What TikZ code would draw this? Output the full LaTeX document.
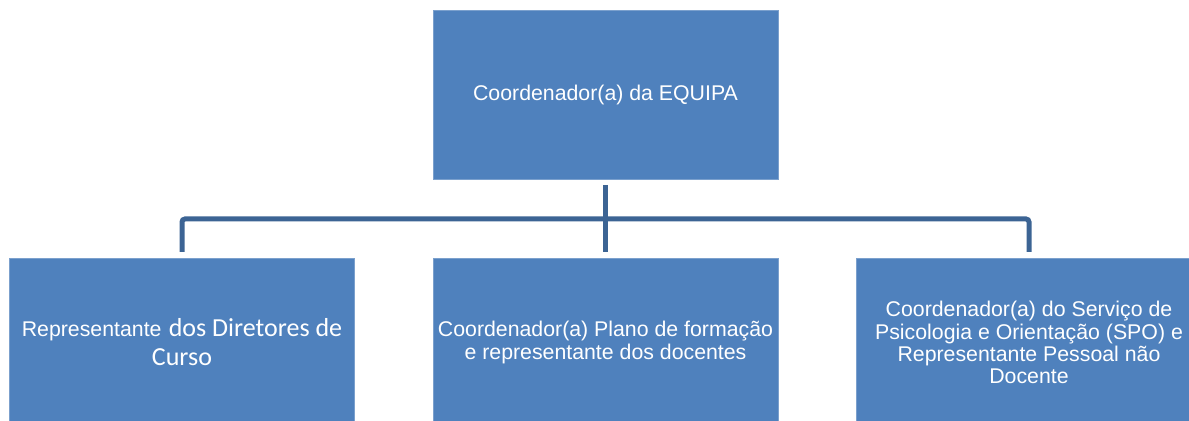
\documentclass[tikz,border=0pt]{standalone}
\usepackage{fontspec}
\setmainfont{Liberation Sans}
\newfontfamily\calibri{Carlito}
\usetikzlibrary{positioning}
\definecolor{boxblue}{HTML}{4F81BD}
\definecolor{linkblue}{HTML}{3C6494}
\tikzstyle{orgbox}=[fill=boxblue, draw=boxblue!75!white, line width=0.4pt, minimum width=172.5pt, minimum height=84.5pt, inner sep=0pt, outer sep=3pt, text=white, align=center, font=\fontsize{10.65}{11.1}\selectfont]
\tikzset{link/.style={draw=linkblue, line width=2.5pt, rounded corners=1.5pt}}

\begin{document}
\begin{tikzpicture}[x=0.5pt, y=-0.5pt]
\clip (0,0) rectangle (1189,421);
\node[orgbox] (coord) at (605.5,94.5) {Coordenador(a) da EQUIPA};
\node[orgbox, font=\fontsize{13}{14.5}\selectfont] (diret) at (182,342.5) {{\fontsize{10.65}{14.5}\selectfont Representante} {\calibri dos Diretores de}\\{\calibri Curso}};
\node[orgbox] (plano) at (605.5,342.5) {Coordenador(a) Plano de formação\\e representante dos docentes};
\node[orgbox] (spo) at (1029,342.5) {Coordenador(a) do Serviço de\\Psicologia e Orientação (SPO) e\\Representante Pessoal não\\Docente};
\coordinate (bus) at (605.5,219);
%\draw[link] (coord.south) -- (bus);
\draw[link] (coord.south) -- (plano.north);
\draw[link] (diret.north) |- (bus) -| (spo.north);
\end{tikzpicture}
\end{document}
